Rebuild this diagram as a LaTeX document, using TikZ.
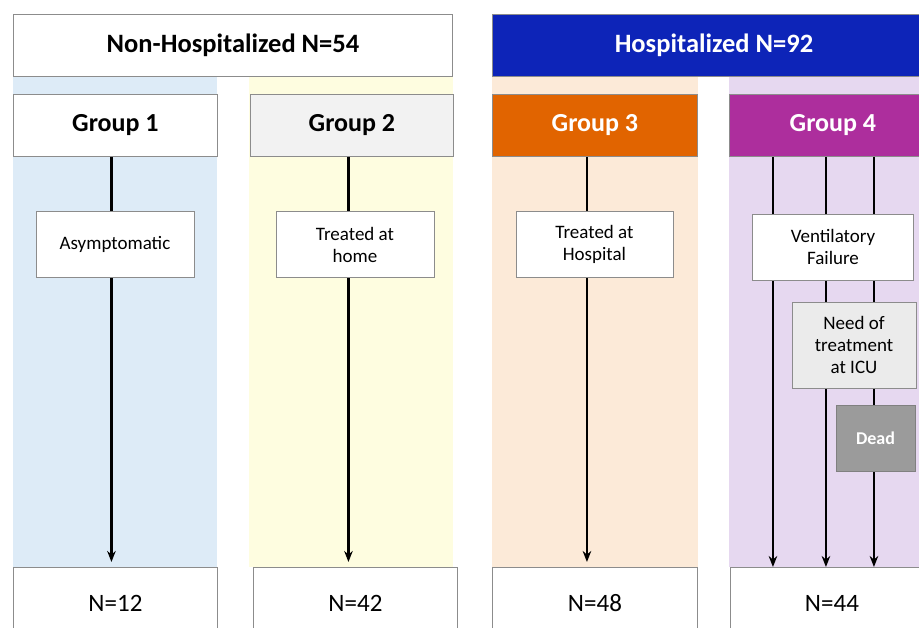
\documentclass[tikz,border=0pt]{standalone}
\usepackage{fontspec}
\setmainfont{Carlito}
\usetikzlibrary{arrows.meta,positioning}
\definecolor{bgone}{HTML}{DDEBF7}
\definecolor{bgtwo}{HTML}{FEFDE0}
\definecolor{bgthree}{HTML}{FCEAD8}
\definecolor{bgfour}{HTML}{E6D8F0}
\definecolor{hospblue}{HTML}{0D24B8}
\definecolor{grporange}{HTML}{E16400}
\definecolor{grppurple}{HTML}{AD2E9D}
\definecolor{linegray}{HTML}{8C8C8C}
\definecolor{lightbox}{HTML}{F2F2F2}
\definecolor{icubox}{HTML}{EBEBEB}
\definecolor{deadbox}{HTML}{9B9B9B}

\begin{document}
\begin{tikzpicture}[
    x=1pt, y=-1pt,
    frame/.style={draw=linegray, line width=0.9pt, inner sep=0pt},
    hdr/.style={frame, anchor=north west, minimum height=62pt, font=\fontsize{26.5}{30}\selectfont\bfseries},
    grp/.style={frame, anchor=north west, minimum height=62pt, font=\fontsize{26}{30}\selectfont\bfseries},
    stage/.style={frame, fill=white, align=center, font=\fontsize{19}{22}\selectfont},
    cnt/.style={frame, fill=white, anchor=north west, minimum height=72pt, font=\fontsize{25}{28}\selectfont},
    arrow/.style={->, >={Stealth[length=11pt,width=8.5pt]}, line width=2.5pt}
]
\useasboundingbox (0,0) rectangle (919,628);
\clip (0,0) rectangle (919,628);

% Column backgrounds
\fill[bgone]   (13,76)  rectangle (217,567);
\fill[bgtwo]   (249,76) rectangle (453,567);
\fill[bgthree] (492,76) rectangle (698,567);
\fill[bgfour]  (729,76) rectangle (940,567);

% Headers
\node[hdr, minimum width=439pt] (nonhosp) at (13,14) {Non-Hospitalized N=54};
\node[hdr, fill=hospblue, text=white, minimum width=443pt] (hosp) at (492,14) {Hospitalized N=92};

% Groups
\node[grp, fill=white, minimum width=204pt] (grp1) at (13,94) {Group 1};
\node[grp, fill=lightbox, minimum width=203pt] (grp2) at (250,94) {Group 2};
\node[grp, fill=grporange, text=white, minimum width=205pt] (grp3) at (492,94) {Group 3};
\node[grp, fill=grppurple, text=white, minimum width=207pt] (grp4) at (729,94) {Group 4};

% Counts
\node[cnt, minimum width=204pt] (cnt1) at (13,567) {N=12};
\node[cnt, minimum width=204pt] (cnt2) at (253,567) {N=42};
\node[cnt, minimum width=205pt] (cnt3) at (492,567) {N=48};
\node[cnt, minimum width=203pt] (cnt4) at (730,567) {N=44};

% Arrows connecting the stages
\draw[arrow, shorten >=5pt] ([xshift=-4pt]grp1.south) -- ([xshift=-4pt]grp1.south |- cnt1.north);
\draw[arrow, shorten >=5pt] ([xshift=-3.5pt]grp2.south) -- ([xshift=-3.5pt]grp2.south |- cnt2.north);
\draw[arrow, shorten >=5pt] ([xshift=-8pt]grp3.south) -- ([xshift=-8pt]grp3.south |- cnt3.north);
\foreach \dx in {-60pt,-7pt,41pt}
    \draw[arrow] ([xshift=\dx]grp4.south) -- ([xshift=\dx]grp4.south |- cnt4.north);

% Stages
\node[stage, minimum width=158pt, minimum height=66pt] (asym) at (115,244.5) {Asymptomatic};
\node[stage, minimum width=158pt, minimum height=66pt] (home) at (355,244.5) {Treated at\\home};
\node[stage, minimum width=157pt, minimum height=66pt] (hospital) at (594.5,244.5) {Treated at\\Hospital};
\node[stage, minimum width=161pt, minimum height=66pt] (vent) at (833,247) {Ventilatory\\Failure};
\node[stage, fill=icubox, minimum width=124pt, minimum height=86pt] (icu) at (854,345) {Need of\\treatment\\at ICU};
\node[stage, fill=deadbox, draw=gray, text=white, font=\fontsize{18}{22}\selectfont\bfseries, minimum width=79pt, minimum height=66pt] (dead) at (875.5,438) {Dead};

\end{tikzpicture}
\end{document}
